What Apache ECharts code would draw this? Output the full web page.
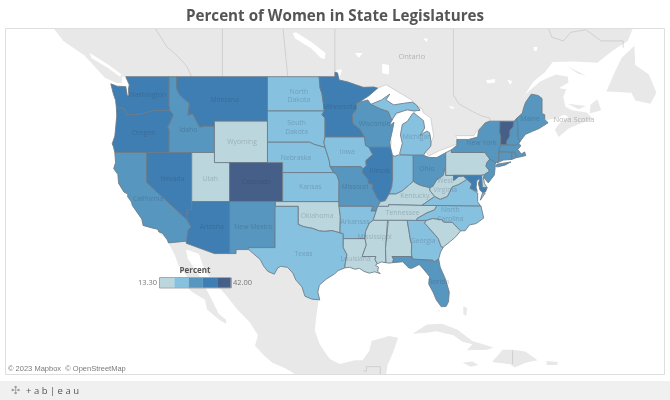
<!DOCTYPE html>
<html><head><meta charset="utf-8">
<style>html,body{margin:0;padding:0;background:#fff}#c{width:670px;height:400px}</style>
<script src="https://cdn.jsdelivr.net/npm/echarts@6/dist/echarts.min.js"></script>
</head><body><div id="c"></div>
<script>
const titleText = 'Percent of Women in State Legislatures';
const legendTitle = 'Percent';
const legendEnds = ['13.30', '42.00'];
const binEdges = [13.3, 19.04, 24.78, 30.52, 36.26, 42];
const binColors = ['#bcd6de', '#86c1df', '#5796bf', '#3f7eb3', '#455f89'];

const stateNames = ['Washington','Oregon','California','Nevada','Idaho','Montana','Wyoming','Utah','Arizona','Colorado','New Mexico','North Dakota','South Dakota','Nebraska','Kansas','Oklahoma','Texas','Minnesota','Iowa','Missouri','Arkansas','Louisiana','Wisconsin','Illinois','Michigan','Indiana','Ohio','Kentucky','Tennessee','Mississippi','Alabama','Georgia','Florida','South Carolina','North Carolina','Virginia','West Virginia','Pennsylvania','New York','Vermont','New Hampshire','Maine','Massachusetts','Connecticut','Rhode Island','New Jersey','Delaware','Maryland'];
const stateValues = [33.9,32.2,26.7,34,27,31,13.3,16,35.6,42,28,21,22,22,23,14.5,21,33,23,25,21,16.5,27,32,24,21,26,17,17,14,15,23,26,15,23,21,16,18,28,40,29,28,27,28,27,29,18,32];
const labeledStates = ['Washington','Oregon','California','Nevada','Idaho','Montana','Wyoming','Utah','Arizona','Colorado','New Mexico','North Dakota','South Dakota','Nebraska','Kansas','Oklahoma','Texas','Minnesota','Iowa','Missouri','Arkansas','Louisiana','Wisconsin','Illinois','Michigan','Ohio','Kentucky','Tennessee','Mississippi','Georgia','Florida','North Carolina','West Virginia','New York','Maine'];
const labelAnchors = {Washington:[-119.9,47.4],Oregon:[-120.4,43.9],Idaho:[-114.5,44.2],Montana:[-109.7,46.9],'North Dakota':[-99.9,47.3],'South Dakota':[-100.2,44.4],Wyoming:[-107.4,43],Nebraska:[-100.3,41.5],Utah:[-111.6,39.3],Colorado:[-105.5,39],Nevada:[-116.6,39.3],California:[-119.8,37.3],Arizona:[-111.4,34.3],'New Mexico':[-105.9,34.3],Kansas:[-98.4,38.5],Oklahoma:[-97.5,35.5],Texas:[-99.3,31.3],Minnesota:[-94.5,46.3],Iowa:[-93.5,42],Wisconsin:[-89.9,44.7],Missouri:[-92.5,38.5],Illinois:[-89.2,40.2],Michigan:[-84.3,43.5],Arkansas:[-92.5,34.8],Mississippi:[-89.9,33.2],Louisiana:[-92.4,30.7],Tennessee:[-86.2,35.8],Kentucky:[-84.6,37.6],Ohio:[-83,40.4],'West Virginia':[-80.6,38.7],Georgia:[-83.5,32.7],Florida:[-81.5,28.1],'North Carolina':[-79.9,35.6],'New York':[-75.8,42.9],Maine:[-69.4,45.2]};

const stateShapes = {
Washington:[[[-122.76,49],[-117.03,49],[-117.04,46.42],[-116.92,45.99],[-118.98,46],[-119.3,45.93],[-120.5,45.72],[-121.2,45.65],[-122,45.6],[-122.7,45.65],[-122.9,46.1],[-123.4,46.22],[-124,46.27],[-124.1,46.9],[-124.4,47.5],[-124.73,48.38],[-123.9,48.17],[-123.1,48.15],[-122.75,48.13],[-122.55,47.3],[-122.35,47.4],[-122.4,47.9],[-122.3,48.3],[-122.6,48.75]]],
Oregon:[[[-124,46.27],[-123.4,46.22],[-122.9,46.1],[-122.7,45.65],[-122,45.6],[-121.2,45.65],[-120.5,45.72],[-119.3,45.93],[-118.98,46],[-116.92,45.99],[-116.47,45.6],[-116.85,44.95],[-117.22,44.45],[-117.03,44.2],[-117.03,42],[-124.2,42],[-124.4,42.6],[-124.55,42.84],[-124.2,43.6],[-124.05,44.7],[-123.95,45.5]]],
Idaho:[[[-117.03,49],[-116.05,49],[-116.05,48],[-115.7,47.45],[-115,47],[-114.35,46.65],[-114.55,45.56],[-113.93,45.69],[-113.45,45.05],[-113,44.45],[-112.3,44.55],[-111.5,44.55],[-111.05,44.48],[-111.05,42],[-117.03,42],[-117.03,44.2],[-117.22,44.45],[-116.85,44.95],[-116.47,45.6],[-116.92,45.99],[-117.04,46.42]]],
Montana:[[[-116.05,49],[-104.05,49],[-104.05,45],[-111.05,45],[-111.05,44.48],[-111.5,44.55],[-112.3,44.55],[-113,44.45],[-113.45,45.05],[-113.93,45.69],[-114.55,45.56],[-114.35,46.65],[-115,47],[-115.7,47.45],[-116.05,48]]],
Wyoming:[[[-111.05,45],[-104.05,45],[-104.05,41],[-111.05,41]]],
Utah:[[[-114.05,42],[-111.05,42],[-111.05,41],[-109.05,41],[-109.05,37],[-114.05,37]]],
Colorado:[[[-109.05,41],[-102.05,41],[-102.05,37],[-109.05,37]]],
Nevada:[[[-120,42],[-114.05,42],[-114.05,36.2],[-114.7,36.1],[-114.65,35.05],[-120,39]]],
California:[[[-124.2,42],[-120,42],[-120,39],[-114.65,35.05],[-114.15,34.3],[-114.5,33.95],[-114.72,32.72],[-117.12,32.53],[-117.25,32.85],[-117.9,33.6],[-118.4,33.75],[-118.5,34.03],[-119.2,34.15],[-120.47,34.45],[-120.65,35.15],[-121.9,36.6],[-122,36.95],[-122.5,37.5],[-122.5,37.8],[-123,38],[-123.7,38.9],[-123.8,39.8],[-124.35,40.4],[-124.1,41]]],
Arizona:[[[-114.05,37],[-109.05,37],[-109.05,31.33],[-111.07,31.33],[-114.8,32.5],[-114.72,32.72],[-114.5,33.95],[-114.15,34.3],[-114.65,35.05],[-114.7,36.1],[-114.05,36.2]]],
'New Mexico':[[[-109.05,37],[-103,37],[-103.05,32],[-106.62,32],[-106.53,31.78],[-108.2,31.78],[-108.2,31.33],[-109.05,31.33]]],
'North Dakota':[[[-104.05,49],[-97.23,49],[-97.1,48],[-96.85,47.5],[-96.6,46.3],[-96.56,45.94],[-104.05,45.94]]],
'South Dakota':[[[-104.05,45.94],[-96.56,45.94],[-96.85,45.6],[-96.45,45.3],[-96.45,43.5],[-96.6,43],[-96.44,42.49],[-97.9,42.8],[-98.5,43],[-104.05,43]]],
Nebraska:[[[-104.05,43],[-98.5,43],[-97.9,42.8],[-96.44,42.49],[-96.1,41.7],[-95.9,41.2],[-95.77,40.59],[-95.31,40],[-102.05,40],[-102.05,41],[-104.05,41]]],
Kansas:[[[-102.05,40],[-95.31,40],[-94.9,39.8],[-94.6,39.1],[-94.62,37],[-102.05,37]]],
Oklahoma:[[[-103,37],[-94.62,37],[-94.43,35.4],[-94.48,33.64],[-95.5,33.88],[-96.5,33.8],[-97.2,33.85],[-98.1,34.13],[-99.2,34.3],[-100,34.56],[-100,36.5],[-103,36.5]]],
Texas:[[[-103.05,36.5],[-100,36.5],[-100,34.56],[-99.2,34.3],[-98.1,34.13],[-97.2,33.85],[-96.5,33.8],[-95.5,33.88],[-94.48,33.64],[-94.04,33.55],[-94.04,32],[-93.55,31.2],[-93.75,30.4],[-93.85,29.7],[-94.7,29.4],[-95.2,29],[-96.3,28.4],[-97.2,27.7],[-97.4,26.9],[-97.15,25.97],[-98.2,26.06],[-99.1,26.4],[-99.5,27.5],[-100.3,28.3],[-100.7,29.1],[-101.4,29.77],[-102.3,29.88],[-102.7,29.7],[-103.15,28.98],[-104,29.3],[-104.55,29.9],[-105,30.65],[-106.53,31.78],[-106.62,32],[-103.05,32]]],
Minnesota:[[[-97.23,49],[-95.15,49],[-95.15,49.38],[-94.8,49.33],[-94.6,48.72],[-93.5,48.55],[-92.4,48.3],[-91.4,48.07],[-90,48.1],[-89.5,48],[-90.7,47.3],[-92,46.72],[-92.3,46.65],[-92.3,46.08],[-92.85,45.6],[-92.75,44.75],[-91.9,44.3],[-91.22,43.5],[-96.45,43.5],[-96.45,45.3],[-96.85,45.6],[-96.56,45.94],[-96.6,46.3],[-96.85,47.5],[-97.1,48]]],
Iowa:[[[-96.45,43.5],[-91.22,43.5],[-91.1,42.7],[-90.65,42.5],[-90.15,41.8],[-91.05,41.2],[-91,40.7],[-91.42,40.38],[-91.7,40.6],[-95.77,40.59],[-95.9,41.2],[-96.1,41.7],[-96.44,42.49],[-96.6,43]]],
Missouri:[[[-95.77,40.59],[-91.7,40.6],[-91.42,40.38],[-91.5,40],[-90.75,39.3],[-90.7,38.9],[-90.15,38.8],[-90.2,38.4],[-89.5,37.3],[-89.13,37],[-89.5,36.5],[-89.7,36],[-90.37,36],[-90.15,36.5],[-94.62,36.5],[-94.62,37],[-94.6,39.1],[-94.9,39.8],[-95.31,40]]],
Arkansas:[[[-94.62,36.5],[-90.15,36.5],[-90.37,36],[-89.7,36],[-90.1,35],[-90.6,34.7],[-91.1,33.8],[-91.17,33],[-94.04,33],[-94.04,33.55],[-94.48,33.64],[-94.43,35.4]]],
Louisiana:[[[-94.04,33],[-91.17,33],[-91,32.3],[-91.55,31],[-89.73,31],[-89.85,30.65],[-89.55,30.18],[-89.8,30],[-89.4,29.8],[-89.5,29.3],[-89.15,29.05],[-89.9,29.25],[-90.6,29.1],[-91.3,29.3],[-91.9,29.65],[-92.5,29.55],[-93.2,29.77],[-93.85,29.7],[-93.75,30.4],[-93.55,31.2],[-94.04,32]]],
Mississippi:[[[-90.1,35],[-88.2,35],[-88.1,34.9],[-88.47,31.9],[-88.4,30.3],[-89,30.38],[-89.55,30.18],[-89.85,30.65],[-89.73,31],[-91.55,31],[-91,32.3],[-91.17,33],[-91.1,33.8],[-90.6,34.7]]],
Alabama:[[[-88.2,35],[-85.6,35],[-85.18,32.87],[-85,32.3],[-85.05,31.55],[-85,31],[-87.6,31],[-87.4,30.7],[-87.52,30.3],[-88,30.25],[-88.4,30.3],[-88.47,31.9],[-88.1,34.9]]],
Tennessee:[[[-89.5,36.5],[-88.05,36.5],[-88.05,36.68],[-83.68,36.6],[-81.68,36.59],[-82,36.12],[-83,35.8],[-84.3,35.2],[-84.32,34.99],[-85.6,35],[-88.2,35],[-90.1,35],[-89.7,36]]],
Kentucky:[[[-89.5,36.5],[-89.13,37],[-88.5,37.1],[-88,37.8],[-87.1,37.8],[-86.3,38.1],[-85.4,38.7],[-84.8,39.1],[-84.2,38.8],[-83.7,38.65],[-82.6,38.45],[-82.6,38.15],[-81.97,37.54],[-83.68,36.6],[-88.05,36.68],[-88.05,36.5]]],
Illinois:[[[-90.65,42.5],[-87.8,42.5],[-87.55,41.75],[-87.53,39.35],[-87.65,38.5],[-88,37.8],[-88.5,37.1],[-89.13,37],[-89.5,37.3],[-90.2,38.4],[-90.15,38.8],[-90.7,38.9],[-90.75,39.3],[-91.5,40],[-91.42,40.38],[-91,40.7],[-91.05,41.2],[-90.15,41.8]]],
Wisconsin:[[[-92.3,46.65],[-92,46.72],[-90.8,46.95],[-90.4,46.55],[-89.1,46.13],[-88.1,45.9],[-87.8,45.35],[-87.6,45.1],[-88,44.55],[-87.35,44.9],[-87.5,44.3],[-87.9,43],[-87.8,42.5],[-90.65,42.5],[-91.1,42.7],[-91.22,43.5],[-91.9,44.3],[-92.75,44.75],[-92.85,45.6],[-92.3,46.08]]],
Michigan:[[[[-86.5,41.76],[-84.8,41.73],[-83.45,41.73],[-83.15,42.1],[-82.5,42.6],[-82.45,43],[-82.65,43.9],[-83,44.07],[-83.9,43.65],[-83.3,44.35],[-83.45,45.05],[-84.75,45.78],[-85,45.6],[-85.55,45],[-86.25,44.7],[-86.5,43.7],[-86.25,42.9],[-86.6,41.9]]],[[[-90.4,46.55],[-89,46.95],[-87.9,47.47],[-88.4,46.95],[-87.4,46.5],[-86,46.65],[-84.9,46.75],[-84.4,46.5],[-83.9,46],[-84.7,45.95],[-85.6,46.05],[-86.5,45.85],[-87.05,45.75],[-87.6,45.1],[-87.8,45.35],[-88.1,45.9],[-89.1,46.13]]]],
Indiana:[[[-87.53,41.7],[-87.2,41.63],[-86.8,41.76],[-84.8,41.73],[-84.8,39.1],[-85.4,38.7],[-86.3,38.1],[-87.1,37.8],[-88,37.8],[-87.65,38.5],[-87.53,39.35]]],
Ohio:[[[-84.8,41.73],[-83.45,41.73],[-82.7,41.5],[-81.7,41.5],[-80.52,41.98],[-80.52,40.64],[-80.85,39.7],[-81.7,39.25],[-82.2,38.6],[-82.6,38.45],[-83.7,38.65],[-84.2,38.8],[-84.8,39.1]]],
'West Virginia':[[[-80.52,40.64],[-80.52,39.72],[-79.48,39.72],[-79.48,39.2],[-78.8,39.6],[-78.2,39.65],[-77.72,39.32],[-78.35,39],[-78.87,38.77],[-79.65,38.55],[-80.3,37.55],[-81.25,37.25],[-81.97,37.54],[-82.6,38.15],[-82.6,38.45],[-82.2,38.6],[-81.7,39.25],[-80.85,39.7]]],
Virginia:[[[[-83.68,36.6],[-81.97,37.54],[-81.25,37.25],[-80.3,37.55],[-79.65,38.55],[-78.87,38.77],[-78.35,39],[-77.72,39.32],[-77.05,38.85],[-77.3,38.4],[-76.3,37.9],[-76.3,37],[-75.95,36.55],[-81.68,36.59]]],[[[-75.95,37.15],[-75.3,37.9],[-75.65,37.95]]]],
'North Carolina':[[[-84.32,34.99],[-84.3,35.2],[-83,35.8],[-82,36.12],[-81.68,36.59],[-75.87,36.55],[-75.5,35.25],[-76.5,34.65],[-77.4,34.5],[-77.95,33.87],[-78.55,33.86],[-79.67,34.8],[-80.8,34.82],[-81.05,35.1],[-82.3,35.2],[-83.1,35]]],
'South Carolina':[[[-83.1,35],[-82.3,35.2],[-81.05,35.1],[-80.8,34.82],[-79.67,34.8],[-78.55,33.86],[-79.2,33.2],[-79.9,32.7],[-80.85,32.05],[-81.12,32.1],[-81.5,33],[-82,33.5],[-83.3,34.7]]],
Georgia:[[[-85.6,35],[-84.32,34.99],[-83.1,35],[-83.3,34.7],[-82,33.5],[-81.5,33],[-81.12,32.1],[-80.85,32.05],[-81.2,31.5],[-81.45,30.72],[-82.05,30.37],[-82.2,30.57],[-84.86,30.7],[-85,31],[-85.05,31.55],[-85,32.3],[-85.18,32.87]]],
Florida:[[[-87.6,31],[-85,31],[-84.86,30.7],[-82.2,30.57],[-82.05,30.37],[-81.45,30.72],[-81.25,29.8],[-80.55,28.4],[-80.05,26.9],[-80.15,25.75],[-80.45,25.2],[-81.1,25.15],[-81.75,25.95],[-82.2,26.9],[-82.75,27.8],[-82.65,28.7],[-83.4,29.5],[-84,30.1],[-85,29.65],[-85.4,29.7],[-86.2,30.4],[-87.52,30.3],[-87.4,30.7]]],
Pennsylvania:[[[-80.52,41.98],[-79.76,42.27],[-79.76,42],[-75.35,42],[-74.7,41.35],[-75.1,40.95],[-75.2,40.65],[-74.72,40.15],[-75.4,39.8],[-75.8,39.72],[-80.52,39.72]]],
'New York':[[[[-79.76,42.27],[-79.05,42.7],[-79.05,43.27],[-77.5,43.27],[-76.3,43.5],[-76.2,44.1],[-75.3,44.85],[-74.7,45],[-73.35,45],[-73.4,44],[-73.25,43.55],[-73.27,42.75],[-73.5,42.05],[-73.5,41.3],[-73.65,41],[-73.9,41],[-74.7,41.35],[-75.35,42],[-79.76,42]]],[[[-74,40.6],[-73.75,40.85],[-72.6,40.98],[-71.9,41.07],[-72.7,40.75],[-73.6,40.58]]]],
'New Jersey':[[[-74.7,41.35],[-73.9,41],[-74.05,40.65],[-74,40.45],[-74.1,39.75],[-74.9,38.95],[-75.5,39.5],[-75.4,39.8],[-74.72,40.15],[-75.2,40.65],[-75.1,40.95]]],
Delaware:[[[-75.8,39.72],[-75.4,39.8],[-75.55,39.45],[-75.4,38.9],[-75.05,38.45],[-75.7,38.46]]],
Maryland:[[[-79.48,39.72],[-75.8,39.72],[-75.7,38.46],[-75.05,38.45],[-75.25,38.03],[-75.65,37.95],[-76,38.2],[-76.2,38.9],[-76,39.4],[-76.4,39.2],[-76.5,38.5],[-76.35,38.05],[-77.3,38.4],[-77.05,38.85],[-77.72,39.32],[-78.2,39.65],[-78.8,39.6],[-79.48,39.2]]],
Connecticut:[[[-73.5,42.05],[-71.8,42.02],[-71.8,41.32],[-72.9,41.25],[-73.65,41],[-73.5,41.3]]],
'Rhode Island':[[[-71.8,42.02],[-71.38,42.02],[-71.15,41.5],[-71.8,41.32]]],
Massachusetts:[[[-73.5,42.05],[-73.27,42.75],[-71.3,42.7],[-70.85,42.88],[-70.6,42.65],[-71,42.3],[-70.55,41.85],[-70.1,42.05],[-69.95,41.7],[-70.6,41.58],[-71.15,41.5],[-71.38,42.02],[-71.8,42.02]]],
Vermont:[[[-73.35,45],[-71.5,45],[-71.6,44.5],[-72.05,44.1],[-72.05,43.6],[-72.45,43.1],[-72.46,42.73],[-73.27,42.75],[-73.25,43.55],[-73.4,44]]],
'New Hampshire':[[[-71.5,45],[-71.1,45.3],[-71,44.5],[-70.97,43.4],[-70.7,43.07],[-70.85,42.88],[-71.3,42.7],[-72.46,42.73],[-72.45,43.1],[-72.05,43.6],[-72.05,44.1],[-71.6,44.5]]],
Maine:[[[-71.1,45.3],[-70.4,45.75],[-70.25,46.2],[-70,46.7],[-69.23,47.46],[-68.3,47.35],[-67.8,47.07],[-67.8,45.7],[-67.45,45.6],[-67.45,45.15],[-67,44.85],[-68.2,44.3],[-69.05,44.05],[-70,43.75],[-70.7,43.07],[-70.97,43.4],[-71,44.5]]]
};
const multiStates = ['Michigan','Virginia','New York'];

const landAreas = [
[[-132.3,53.04],[-131,52],[-128.2,50.8],[-125.5,48.9],[-124,48.45],[-123.3,48.45],[-123.2,49.02],[-122.3,48.95],[-121.7,47.5],[-121.7,46],[-123.5,44],[-123.5,42],[-122,38],[-120,35],[-117.5,33],[-117.12,32.53],[-116.3,31.2],[-115.8,30],[-114.8,28.9],[-114.1,28.1],[-115,27.8],[-114,26.9],[-112.3,26],[-112,24.8],[-110.3,23.5],[-109.5,23.1],[-109.5,23.6],[-110.5,24.3],[-111.3,25.8],[-112.4,27.7],[-113.2,29],[-114.6,30.8],[-114.8,31.8],[-113.1,31.3],[-112.3,29.3],[-110.9,27.9],[-109.4,26.4],[-108.2,25],[-106.4,23.3],[-105.3,21.7],[-105.7,20.4],[-104.4,19.1],[-103.4,18.3],[-101.7,17.6],[-100.2,16.75],[-88.4,16.75],[-88.2,18],[-87.5,19.5],[-86.8,21.4],[-88,21.6],[-90.3,21],[-90.6,19.8],[-91.5,18.6],[-92.5,18.6],[-94.5,18.15],[-95.8,18.75],[-96.3,19.4],[-97.2,20.7],[-97.8,22.3],[-97.6,24],[-97.3,26],[-97.6,27.6],[-95.3,29.4],[-93.9,29.9],[-90,30.2],[-88.2,30.6],[-85,30.6],[-82.8,29.2],[-81.5,26.5],[-81,27.5],[-81.6,30.5],[-81.5,32.3],[-79.5,33.5],[-78,34.5],[-76.8,35.2],[-76.8,37.3],[-77.2,38.6],[-76.7,39.4],[-75.7,39.6],[-74.5,40.4],[-73.6,41.2],[-71.5,41.7],[-71,42.7],[-70.3,43.9],[-68.3,44.7],[-67.2,45.1],[-66,45.25],[-64.9,45.6],[-64.3,45.4],[-65.6,44.7],[-66.1,44.2],[-65.6,43.5],[-64.3,44.3],[-63,44.7],[-61.1,45.2],[-61.9,45.8],[-63.8,46],[-64.7,46.3],[-65,47.2],[-64.6,47.9],[-65.6,48],[-64.3,48.5],[-64.4,49],[-66,49.2],[-68,48.6],[-69.6,47.7],[-71.1,46.85],[-70,47.5],[-68.9,48.6],[-67.4,49.4],[-66.4,50.25],[-63.5,50.3],[-60.5,50.2],[-58.5,51.2],[-56.5,52],[-55.8,53.04]],
[[-59.3,47.7],[-58.4,49.1],[-57.3,50.6],[-55.6,51.6],[-55.5,50],[-53.7,49.2],[-52.7,47.6],[-53.5,46.6],[-55.5,46.9],[-56,47.6]],
[[-61.5,45.7],[-60,46],[-60.5,47],[-61.4,46.5]],
[[-64.4,46.6],[-62,46.4],[-63,46.1]],
[[-64.5,49.9],[-62,49.1],[-63,49.25]],
[[-84.9,21.9],[-83,23],[-81,23.1],[-79,22.4],[-77,21],[-74.2,20.2],[-75,19.9],[-77.7,19.85],[-77,20.6],[-78.3,20.9],[-79.5,21.7],[-81.8,22.2],[-83,22]],
[[-74.4,18.4],[-73,19.9],[-71.7,19.9],[-70,19.7],[-68.4,18.6],[-70,18.3],[-71.4,17.7],[-72,18.1]],
[[-78.3,18.3],[-77,18.45],[-76.2,18],[-77.2,17.8]],
[[-67.2,18.5],[-65.7,18.4],[-65.8,18],[-67.2,18]],
[[-78.2,25.2],[-77.7,25],[-77.8,24],[-78.2,24.3]],
[[-81.8,24.62],[-81.2,24.75],[-81.3,24.6]]
];
const waterAreas = [
[[-92.1,46.75],[-89.5,48],[-88.4,48.3],[-84.9,46.9],[-84.5,46.5],[-84.5,46.2],[-87,46.2],[-90,46.3]],
[[-87.6,41.6],[-86.7,41.6],[-86,43],[-85.6,45],[-84.8,45.85],[-86,46],[-87.7,45.2],[-88.1,44.4],[-87.6,43],[-87.9,42]],
[[-84.6,45.7],[-84.2,46.2],[-83.6,46.1],[-83.5,45.8],[-82.5,45.3],[-82.1,43.6],[-82.45,43],[-83,43.5],[-84,45]],
[[-83.4,41.7],[-83.15,42.05],[-82.7,41.68],[-81.3,42.2],[-80,42.55],[-78.9,42.85],[-79.05,42.5],[-81,41.4]],
[[-79.2,43.2],[-79.2,43.63],[-76.8,43.63],[-76.45,44.1],[-75.8,44.45],[-75,44.95],[-75.8,44.2],[-76.2,43.4]],
[[-127.5,51],[-125,50],[-123.3,49.2],[-123.5,49],[-125.2,49.8],[-127.3,50.6]],
[[-100.7,52.6],[-100.3,52.7],[-98.2,51.9],[-96.4,51],[-96.5,50.5],[-97,50.6],[-98.3,51.4],[-100.4,52.2]],
[[-94.9,49.6],[-94.2,49.6],[-94.5,49],[-95,49.1]],
[[-88.9,50.1],[-88,50],[-88,49.2],[-88.9,49.3]],
[[-80.2,46.4],[-79.4,46.3],[-79.6,46.1]],
[[-72.4,48.75],[-71.7,48.6],[-72,48.3]],
[[-75.2,48.7],[-74,48.8],[-74,48.5],[-75,48.4]],
[[-68.9,51.5],[-68.4,51.5],[-68.5,51.2],[-68.9,51.2]],
[[-83.5,52.2],[-82.9,52.2],[-83,51.9]],
[[-92.5,51],[-91.5,51],[-92,50.6]]
];
const borderLines = [
[[-89.5,48],[-88.4,48.3],[-84.9,46.9],[-84.5,46.5],[-83.6,46.1],[-83.5,45.8],[-82.5,45.3],[-82.1,43.6],[-82.45,43],[-82.5,42.6],[-83.15,42.05],[-82.7,41.68],[-81.3,42.2],[-80,42.55],[-78.9,42.85],[-79.05,43.27],[-79.2,43.63],[-76.8,43.63],[-76.45,44.1],[-75.8,44.45],[-74.7,45]],
[[-118.9,53.04],[-117.3,51.5],[-116,50.8],[-114.7,49.9],[-114.06,49]],
[[-110,53.04],[-110,49]],
[[-102,53.04],[-101.37,49]],
[[-95.15,53.04],[-95.15,49.38]],
[[-79.5,53.04],[-79.5,47.4],[-78.8,46.6],[-77,45.9],[-75.8,45.5],[-74.7,45.3],[-74.7,45]],
[[-69.23,47.46],[-70,46.7]],
[[-67.8,47.07],[-69,47.46]],
[[-67,53.04],[-66.5,52.3],[-65,52],[-64,52.7],[-62,52.9],[-60,52],[-57.1,52],[-57.1,51.45]],
[[-91.4,17.25],[-90.98,17.25],[-90.98,17.8],[-89.15,17.8],[-89.15,16.75]],
[[-71.7,19.8],[-71.7,18.1]]
];
const placeNames = ['Ontario','Nova Scotia'];
const placeCoords = [[-85,50.7],[-63.6,45.1]];
const attribution = '© 2023 Mapbox  © OpenStreetMap';
const logoText = '+ a b | e a u';

const viewCoords = [[-138.7,53.04],[-51.57,16.75]];
const mercator = {
  project: p => [p[0]*Math.PI/180, -Math.log(Math.tan(Math.PI/4 + p[1]*Math.PI/360))],
  unproject: p => [p[0]*180/Math.PI, (2*Math.atan(Math.exp(-p[1]))-Math.PI/2)*180/Math.PI]
};

const stateGeo = {type:'FeatureCollection',features:stateNames.map(n=>({
  type:'Feature',
  properties:Object.assign({name:n}, labelAnchors[n]?{cp:labelAnchors[n]}:{}),
  geometry:{type:multiStates.includes(n)?'MultiPolygon':'Polygon',coordinates:stateShapes[n]}
}))};
const closeRing = r => r.concat([r[0]]);
const baseGeo = {type:'FeatureCollection',features:[
  {type:'Feature',properties:{name:'land'},geometry:{type:'MultiPolygon',coordinates:landAreas.map(a=>[closeRing(a)])}},
  {type:'Feature',properties:{name:'water'},geometry:{type:'MultiPolygon',coordinates:waterAreas.map(a=>[closeRing(a)])}}
]};
stateGeo.features.forEach(f=>{
  const polys = f.geometry.type==='Polygon'?[f.geometry.coordinates]:f.geometry.coordinates;
  polys.forEach(p=>p.forEach((r,i)=>{p[i]=closeRing(r);}));
});
echarts.registerMap('states', stateGeo);
echarts.registerMap('base', baseGeo);

const frame = {left:5, top:28, width:660, height:347};
const chart = echarts.init(document.getElementById('c'), null, {renderer:'canvas'});
const labelColor = 'rgba(38,52,66,0.24)';
chart.setOption({
  animation:false,
  backgroundColor:'#fff',
  title:{text:titleText,left:'center',top:4,textStyle:{fontFamily:'Open Sans',fontWeight:'bold',fontSize:15.2,color:'#555'}},
  geo:Object.assign({map:'base',projection:mercator,boundingCoords:viewCoords,silent:true,roam:false,z:1,
    itemStyle:{areaColor:'#e8e8e8',borderWidth:0,borderColor:'transparent'},
    label:{show:false},
    regions:[{name:'water',itemStyle:{areaColor:'#ffffff',borderWidth:0}}]},frame),
  visualMap:{type:'piecewise',seriesIndex:2,orient:'horizontal',left:160,top:278,padding:0,itemGap:0,itemWidth:14.3,itemHeight:10,itemSymbol:'rect',
    showLabel:false,selectedMode:false,hoverLink:false,
    pieces:binColors.map((c,i)=>({min:binEdges[i],max:binEdges[i+1],color:c})),z:20},
  series:[
    {type:'lines',coordinateSystem:'geo',geoIndex:0,polyline:true,silent:true,z:2,
      lineStyle:{color:'#c6c6c6',width:0.7,opacity:1},data:borderLines.map(c=>({coords:c}))},
    {type:'scatter',coordinateSystem:'geo',geoIndex:0,symbolSize:0,silent:true,z:2,
      label:{show:true,position:'inside',formatter:'{b}',fontFamily:'Open Sans',fontSize:7.5,color:'#a6a6a6'},
      data:placeNames.map((n,i)=>({name:n,value:placeCoords[i]}))},
    Object.assign({type:'map',map:'states',projection:mercator,boundingCoords:viewCoords,roam:false,silent:true,z:3,
      itemStyle:{borderColor:'#6b7b86',borderWidth:0.85},
      label:{show:true,fontFamily:'Open Sans',fontSize:6.8,lineHeight:8.5,color:labelColor,
        formatter:p=>p.name.replace(/^(North|South|West) /,'$1\n')},
      data:stateNames.map((n,i)=>({name:n,value:stateValues[i],label:{show:labeledStates.includes(n)}}))},frame)
  ],
  graphic:[
    {type:'rect',z:50,silent:true,shape:{x:5.5,y:28.5,width:659,height:346},style:{fill:'none',stroke:'#dedede',lineWidth:1}},
    {type:'rect',z:50,silent:true,shape:{x:0,y:381,width:670,height:19},style:{fill:'#f0f0f0'}},
    {type:'text',z:50,silent:true,x:195,y:271,style:{text:legendTitle,font:'bold 8px "Open Sans"',fill:'#555',align:'center',verticalAlign:'middle'}},
    {type:'text',z:50,silent:true,x:157,y:282.5,style:{text:legendEnds[0],font:'7.5px "Open Sans"',fill:'#777',align:'right',verticalAlign:'middle'}},
    {type:'text',z:50,silent:true,x:233,y:282.5,style:{text:legendEnds[1],font:'7.5px "Open Sans"',fill:'#777',align:'left',verticalAlign:'middle'}},
    {type:'rect',z:50,silent:true,shape:{x:159.5,y:277.5,width:71.5,height:10.5},style:{fill:'none',stroke:'#a8a8a8',lineWidth:1}},
    {type:'text',z:50,silent:true,x:8,y:369,style:{text:attribution,font:'7.5px "Liberation Sans"',fill:'#7a7a7a',verticalAlign:'middle'}},
    {type:'text',z:50,silent:true,x:11,y:391,style:{text:'✣',font:'11px "DejaVu Sans"',fill:'#9a9a9a',verticalAlign:'middle'}},
    {type:'text',z:50,silent:true,x:26,y:391,style:{text:logoText,font:'9.5px "Open Sans"',fill:'#555',verticalAlign:'middle'}}
  ]
});
</script></body></html>
